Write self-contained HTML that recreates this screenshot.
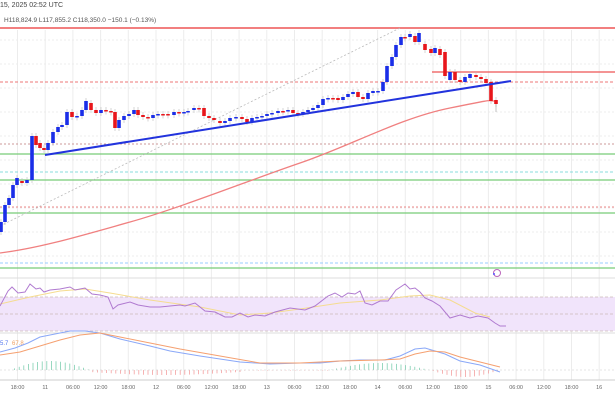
<!DOCTYPE html>
<html><head><meta charset="utf-8"><style>
body{margin:0;background:#fff;}
svg{display:block;font-family:"Liberation Sans",sans-serif;}
</style></head><body>
<svg id="s" width="615" height="410" viewBox="0 0 615 410" xmlns="http://www.w3.org/2000/svg">
<rect width="615" height="410" fill="#fff"/>
<g id="grid" stroke="#ececec" stroke-width="1"></g>
<text x="0" y="7" font-size="7" fill="#444">15, 2025 02:52 UTC</text>
<text x="4" y="22" font-size="6.5" fill="#555">H118,824.9  L117,855.2  C118,350.0  −150.1 (−0.13%)</text>
<line x1="0" y1="28" x2="615" y2="28" stroke="#e55" stroke-width="1.5"/>
<line x1="0" y1="82" x2="615" y2="82" stroke="#e77" stroke-width="1" stroke-dasharray="3,2"/>
<line x1="432" y1="72" x2="615" y2="72" stroke="#e55" stroke-width="1.2"/>
<line x1="0" y1="144" x2="615" y2="144" stroke="#c99" stroke-width="1" stroke-dasharray="2,2"/>
<line x1="0" y1="154" x2="615" y2="154" stroke="#7c7" stroke-width="1.2"/>
<line x1="0" y1="172" x2="615" y2="172" stroke="#8dd" stroke-width="1" stroke-dasharray="3,2"/>
<line x1="0" y1="180" x2="615" y2="180" stroke="#7c7" stroke-width="1.2"/>
<line x1="0" y1="207" x2="615" y2="207" stroke="#e88" stroke-width="1" stroke-dasharray="2,2"/>
<line x1="0" y1="213" x2="615" y2="213" stroke="#7c7" stroke-width="1.2"/>
<line x1="0" y1="263" x2="615" y2="263" stroke="#9cf" stroke-width="1" stroke-dasharray="3,2"/>
<line x1="0" y1="268" x2="615" y2="268" stroke="#7c7" stroke-width="1.2"/>
<line x1="0" y1="226" x2="400" y2="28" stroke="#bbb" stroke-width="0.8" stroke-dasharray="2,2"/>
<path d="M0,253 C40,248 80,236 130,222 S250,180 300,163 S400,118 450,108 S485,101 495,101" fill="none" stroke="#f08080" stroke-width="1.3"/>
<g id="candles"></g>
<line x1="45" y1="155" x2="511" y2="81" stroke="#2233dd" stroke-width="2"/>
<circle cx="497" cy="273" r="3.5" fill="none" stroke="#b6b" stroke-width="1"/>
<circle cx="494" cy="274" r="1" fill="#55f"/>
<line x1="0" y1="278" x2="615" y2="278" stroke="#ddd"/>
<rect x="0" y="297" width="615" height="34" fill="#f1e4fb"/>
<line x1="0" y1="297" x2="615" y2="297" stroke="#cbb" stroke-dasharray="3,2" stroke-width="0.7"/>
<line x1="0" y1="314" x2="615" y2="314" stroke="#cbb" stroke-dasharray="3,2" stroke-width="0.7"/>
<line x1="0" y1="331" x2="615" y2="331" stroke="#cbb" stroke-dasharray="3,2" stroke-width="0.7"/>
<polyline fill="none" stroke="#f5dc90" stroke-width="1" points="0,304 30,297 60,291 85,289 110,293 150,300 200,307 240,315 270,313 300,309 340,303 380,300 410,296 430,295 450,300 475,313 490,317"/>
<polyline fill="none" stroke="#b07ad0" stroke-width="1" points="0,306 8,291 12,287 18,293 25,292 30,284 36,289 40,288 44,292 50,290 60,289 70,287 75,290 85,288 92,294 100,295 108,297 113,309 118,305 130,302 138,305 150,307 160,307 170,306 180,305 185,306 195,303 205,311 215,312 225,317 232,317 240,313 248,317 255,315 265,316 275,312 290,308 305,310 315,306 328,296 335,293 342,297 348,293 355,294 360,291 365,303 372,305 380,301 388,301 396,290 405,284 410,289 415,288 420,292 425,298 432,301 440,306 450,318 460,315 470,318 478,316 488,318 495,323 500,326 506,326"/>
<line x1="0" y1="333" x2="615" y2="333" stroke="#ddd"/>
<text x="0" y="345" font-size="6" fill="#5577ee">5.7</text>
<text x="12" y="345" font-size="6" fill="#f0a060">67.8</text>
<g id="hist"></g>
<line x1="0" y1="370" x2="615" y2="370" stroke="#ccc" stroke-dasharray="2,2" stroke-width="0.6"/>
<polyline fill="none" stroke="#8aa8f8" stroke-width="1" points="0,352 15,348 28,343 40,337 55,334 70,331 85,331 100,333 120,339 150,346 170,351 200,356 240,362 270,364 300,363 320,363 340,361 360,360 385,360 400,356 415,349 425,348 445,354 460,361 480,365 500,372"/>
<polyline fill="none" stroke="#f5a070" stroke-width="1" points="0,355 20,352 40,346 60,340 80,335 100,333 120,337 150,343 180,349 220,356 260,363 300,363 340,361 380,360 400,359 415,354 430,351 445,352 460,357 480,362 500,367"/>
<line x1="0" y1="380" x2="615" y2="380" stroke="#ccc"/>
<g id="labels" font-size="5.5" fill="#666" text-anchor="middle"></g>
</svg>
<script>
var NS="http://www.w3.org/2000/svg";
function el(p,t,a){var e=document.createElementNS(NS,t);for(var k in a)e.setAttribute(k,a[k]);p.appendChild(e);return e;}
var g=document.getElementById("grid"),lb=document.getElementById("labels");
var names=["18:00","11","06:00","12:00","18:00","12","06:00","12:00","18:00","13","06:00","12:00","18:00","14","06:00","12:00","18:00","15","06:00","12:00","18:00","16"];
for(var i=0;i<22;i++){var x=17.5+i*27.7;el(g,"line",{x1:x,y1:30,x2:x,y2:380});var t=el(lb,"text",{x:x,y:389});t.textContent=names[i];}
for(var y=40;y<280;y+=24){el(g,"line",{x1:0,y1:y,x2:615,y2:y,"stroke-dasharray":"2,2"});}
var c=[[1,232,222],[5,222,205],[9,205,198],[13,198,185],[17,185,178],[22,181,183],[27,183,180],[32,180,136],[36,136,145],[40,143,148],[44,148,150],[48,150,143],[53,143,132],[58,132,127],[62,127,125],[67,125,112],[72,112,117],[77,117,116],[82,116,110],[86,110,101],[91,103,110],[96,110,113],[101,113,110],[106,110,111],[111,111,112],[115,112,128],[119,128,120],[124,120,116],[129,116,114],[134,114,110],[138,110,115],[143,115,117],[148,117,118],[153,118,115],[158,115,114],[163,114,114],[168,114,115],[174,115,112],[179,112,113],[184,113,112],[188,112,111],[194,110,108],[199,108,108],[204,108,116],[209,116,118],[214,118,120],[220,121,123],[225,123,121],[230,121,118],[236,118,117],[242,117,119],[247,119,122],[252,122,118],[257,118,117],[262,117,116],[267,116,114],[272,114,113],[278,113,111],[283,111,111],[288,111,110],[293,110,113],[298,113,114],[303,114,112],[308,112,110],[313,110,108],[318,108,105],[323,105,99],[328,99,98],[333,98,98],[338,98,100],[343,100,97],[348,97,94],[353,94,92],[358,92,97],[363,97,99],[368,99,93],[373,93,91],[378,92,91],[383,91,82],[387,82,66],[392,66,57],[396,57,45],[401,45,37],[405,37,37],[410,37,34],[415,36,42],[419,42,33],[425,44,50],[431,49,53],[435,53,48],[440,49,55],[445,52,76],[450,80,72],[455,72,80],[460,80,82],[465,82,77],[470,78,74],[476,75,77],[481,77,79],[486,79,83],[491,82,101],[496,100,104]];
var cg=document.getElementById("candles");
c.forEach(function(d){var up=d[2]<d[1];var col=up?"#1a2ee8":"#e8161b";var top=Math.min(d[1],d[2]),h=Math.max(1.5,Math.abs(d[1]-d[2]));
el(cg,"line",{x1:d[0],y1:top-3,x2:d[0],y2:top+h+3,stroke:"#bbb","stroke-width":0.6});
el(cg,"rect",{x:d[0]-1.8,y:top,width:3.6,height:h,fill:col});});
el(cg,"line",{x1:496,y1:104,x2:496,y2:112,stroke:"#999","stroke-width":0.6});
var hg=document.getElementById("hist");
for(var x=10;x<500;x+=4.6){var v;if(x<90)v=-Math.sin((x-10)/80*Math.PI)*9;else if(x<240)v=Math.sin((x-90)/150*Math.PI)*3+2;else if(x<330)v=0.5;else if(x<430)v=-Math.sin((x-330)/100*Math.PI)*7;else v=Math.sin((x-430)/70*Math.PI)*7;
var col=v<0?"#7fcfb0":"#f4a0a0";el(hg,"line",{x1:x,y1:370,x2:x,y2:370+v,stroke:col,"stroke-width":0.8});}
</script>
</body></html>
